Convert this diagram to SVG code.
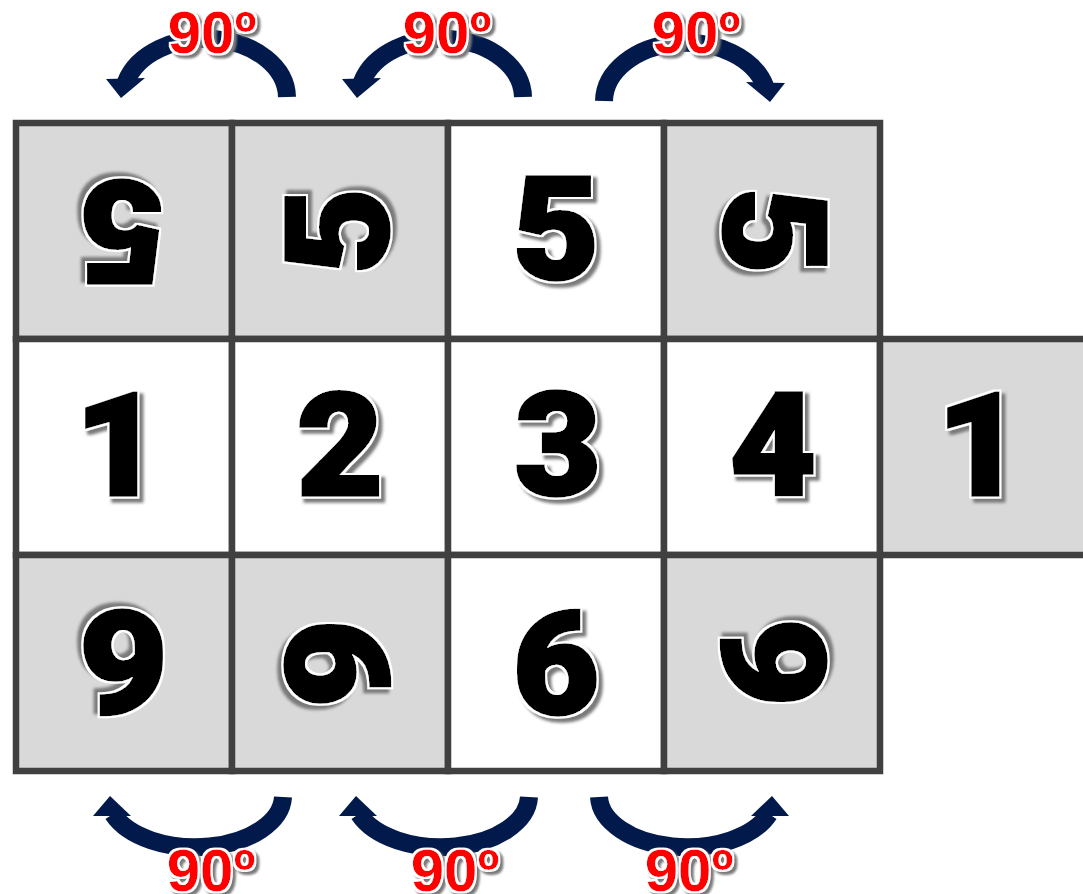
<svg xmlns="http://www.w3.org/2000/svg" width="1083" height="894" viewBox="0 0 1083 894">
<defs>
<style>
.cw{fill:#ffffff;stroke:#404040;stroke-width:6.5}
.cg{fill:#d9d9d9;stroke:#404040;stroke-width:6.5}
.dg{font-family:Roboto,"Liberation Sans",Arial,sans-serif;font-weight:900;font-size:142px;fill:#000;stroke:#000;stroke-width:3.5;stroke-linejoin:miter;text-anchor:middle}
.lb{font-family:"Liberation Sans",Arial,sans-serif;font-weight:bold;font-size:60px;fill:#ff0000;text-anchor:middle}
.band{fill:none;stroke:#021a4b;stroke-width:18}
.head{fill:#021a4b}
</style>
<filter id="dfx" x="-25%" y="-25%" width="150%" height="150%">
<feMorphology in="SourceAlpha" operator="dilate" radius="2" result="d"/>
<feFlood flood-color="#ffffff" result="w"/>
<feComposite in="w" in2="d" operator="in" result="outline"/>
<feOffset in="d" dx="4" dy="4" result="o"/>
<feGaussianBlur in="o" stdDeviation="1.5" result="ob"/>
<feFlood flood-color="#7a7a7a" result="g"/>
<feComposite in="g" in2="ob" operator="in" result="shadow"/>
<feMerge><feMergeNode in="shadow"/><feMergeNode in="outline"/><feMergeNode in="SourceGraphic"/></feMerge>
</filter>
<filter id="lfx" x="-25%" y="-25%" width="150%" height="150%">
<feMorphology in="SourceAlpha" operator="dilate" radius="1.5" result="d"/>
<feFlood flood-color="#ffffff" result="w"/>
<feComposite in="w" in2="d" operator="in" result="outline"/>
<feOffset in="d" dx="3" dy="3" result="o"/>
<feGaussianBlur in="o" stdDeviation="1" result="ob"/>
<feFlood flood-color="#7a7a7a" result="g"/>
<feComposite in="g" in2="ob" operator="in" result="shadow"/>
<feMerge><feMergeNode in="shadow"/><feMergeNode in="outline"/><feMergeNode in="SourceGraphic"/></feMerge>
</filter>
</defs>

<rect x="0" y="0" width="1083" height="894" fill="#ffffff"/>

<g id="cells">
<rect id="cell-r1c1" class="cg" x="16" y="123" width="216" height="216"/>
<rect id="cell-r1c2" class="cg" x="232" y="123" width="216" height="216"/>
<rect id="cell-r1c3" class="cw" x="448" y="123" width="216" height="216"/>
<rect id="cell-r1c4" class="cg" x="664" y="123" width="216" height="216"/>
<rect id="cell-r2c1" class="cw" x="16" y="339" width="216" height="216"/>
<rect id="cell-r2c2" class="cw" x="232" y="339" width="216" height="216"/>
<rect id="cell-r2c3" class="cw" x="448" y="339" width="216" height="216"/>
<rect id="cell-r2c4" class="cw" x="664" y="339" width="216" height="216"/>
<rect id="cell-r2c5" class="cg" x="880" y="339" width="216" height="216"/>
<rect id="cell-r3c1" class="cg" x="16" y="555" width="216" height="216"/>
<rect id="cell-r3c2" class="cg" x="232" y="555" width="216" height="216"/>
<rect id="cell-r3c3" class="cw" x="448" y="555" width="216" height="216"/>
<rect id="cell-r3c4" class="cg" x="664" y="555" width="216" height="216"/>
</g>

<g id="digits">
<g id="d-r1c1" transform="translate(122,232) rotate(180)"><text class="dg" filter="url(#dfx)" x="0" y="51" transform="scale(1.05,1)">5</text></g>
<g id="d-r1c2" transform="translate(337,231) rotate(-90)"><text class="dg" filter="url(#dfx)" x="0" y="51" transform="scale(1.05,1)">5</text></g>
<g id="d-r1c3" transform="translate(556,228)"><text class="dg" filter="url(#dfx)" x="0" y="51" transform="scale(1.05,1)">5</text></g>
<g id="d-r1c4" transform="translate(775,231) rotate(90)"><text class="dg" filter="url(#dfx)" x="0" y="51" transform="scale(1.05,1)">5</text></g>
<g id="d-r2c1" transform="translate(118,444)"><text class="dg" filter="url(#dfx)" x="0" y="51" transform="scale(1.05,1)">1</text></g>
<g id="d-r2c2" transform="translate(340,444)"><text class="dg" filter="url(#dfx)" x="0" y="51" transform="scale(1.05,1)">2</text></g>
<g id="d-r2c3" transform="translate(558,444)"><text class="dg" filter="url(#dfx)" x="0" y="51" transform="scale(1.05,1)">3</text></g>
<g id="d-r2c4" transform="translate(773,444)"><text class="dg" filter="url(#dfx)" x="0" y="51" transform="scale(1.05,1)">4</text></g>
<g id="d-r2c5" transform="translate(980,444)"><text class="dg" filter="url(#dfx)" x="0" y="51" transform="scale(1.05,1)">1</text></g>
<g id="d-r3c1" transform="translate(124,662) rotate(180)"><text class="dg" filter="url(#dfx)" x="0" y="51" transform="scale(1.05,1)">6</text></g>
<g id="d-r3c2" transform="translate(337,663) rotate(90)"><text class="dg" filter="url(#dfx)" x="0" y="51" transform="scale(1.05,1)">6</text></g>
<g id="d-r3c3" transform="translate(556,663)"><text class="dg" filter="url(#dfx)" x="0" y="51" transform="scale(1.05,1)">6</text></g>
<g id="d-r3c4" transform="translate(774,663) rotate(-90)"><text class="dg" filter="url(#dfx)" x="0" y="51" transform="scale(1.05,1)">6</text></g>
</g>

<g id="connectors">
<g id="arrow-t1">
<path class="band" d="M287,97 A82,59 0 0 0 126,82"/>
<polygon class="head" points="106,79 145,78 121,98"/>
</g>
<g id="arrow-t2" transform="translate(236,0)">
<path class="band" d="M287,97 A82,59 0 0 0 126,82"/>
<polygon class="head" points="106,79 145,78 121,98"/>
</g>
<g id="arrow-t3" transform="translate(891,4) scale(-1,1)">
<path class="band" d="M287,97 A82,59 0 0 0 126,82"/>
<polygon class="head" points="106,79 145,78 121,98"/>
</g>
<g id="arrow-b1">
<path class="band" d="M283,797 A88,52 0 0 1 113,814"/>
<polygon class="head" points="93,816 131,816 110,796"/>
</g>
<g id="arrow-b2" transform="translate(246,0)">
<path class="band" d="M283,797 A88,52 0 0 1 113,814"/>
<polygon class="head" points="93,816 131,816 110,796"/>
</g>
<g id="arrow-b3" transform="translate(882,0) scale(-1,1)">
<path class="band" d="M283,797 A88,52 0 0 1 113,814"/>
<polygon class="head" points="93,816 131,816 110,796"/>
</g>
</g>

<g id="labels">
<text id="lab-t1" class="lb" filter="url(#lfx)" x="212" y="53">90º</text>
<text id="lab-t2" class="lb" filter="url(#lfx)" x="447" y="53">90º</text>
<text id="lab-t3" class="lb" filter="url(#lfx)" x="696" y="53">90º</text>
<text id="lab-b1" class="lb" filter="url(#lfx)" x="211" y="891">90º</text>
<text id="lab-b2" class="lb" filter="url(#lfx)" x="455" y="891">90º</text>
<text id="lab-b3" class="lb" filter="url(#lfx)" x="689" y="891">90º</text>
</g>
</svg>
